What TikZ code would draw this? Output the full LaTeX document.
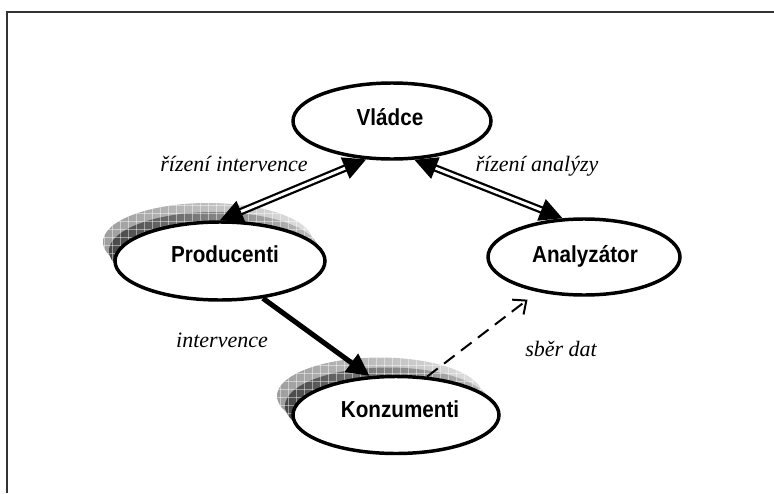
\documentclass[tikz,border=0pt]{standalone}
\usepackage{fontspec}
\setmainfont{Liberation Serif}
\setsansfont{Liberation Sans}
\usetikzlibrary{shapes.geometric,arrows.meta,patterns.meta}

\begin{document}
\begin{tikzpicture}[x=0.75pt,y=-0.75pt,
  actor/.style={ellipse, draw=black, line width=2.6pt, fill=white, inner sep=0pt},
  actorname/.style={font=\sffamily\bfseries\fontsize{15.5}{18}\selectfont, inner sep=0pt},
  tag/.style={font=\itshape\fontsize{16.5}{19}\selectfont, anchor=base, inner sep=0pt},
  frameline/.style={draw=black!80, line width=1.5pt},
  ctrl/.style={draw=black, line width=1.7pt, double=white, double distance=2.2pt,
    {Triangle[length=17pt,width=17pt]}-{Triangle[length=17pt,width=17pt]}},
  flow/.style={draw=black, line width=3.8pt, -{Triangle[length=17pt,width=16pt]}},
  collect/.style={draw=black, line width=1.5pt, dash pattern=on 10pt off 6pt,
    -{Straight Barb[length=8pt,width=14pt,line width=1.5pt]}},
  shadeouter/.style={ellipse, inner sep=0pt, left color=black!38, right color=black!12},
  shadeinner/.style={ellipse, inner sep=0pt, left color=black!72, right color=black!25},
  shadegrid/.style={ellipse, inner sep=0pt, pattern color=white, opacity=0.45,
    pattern={Lines[distance=6pt,angle=0,line width=0.5pt]}},
  shadegridv/.style={ellipse, inner sep=0pt, pattern color=white, opacity=0.45,
    pattern={Lines[distance=6pt,angle=90,line width=0.5pt]}}
]
\useasboundingbox (0,0) rectangle (774,493);

% frame (top and left edges)
\coordinate (fTL) at (7,12);
\coordinate (fTR) at (774,12);
\coordinate (fBL) at (7,493);
\draw[frameline] (fTR) -- (fTL) -- (fBL);

% drop shadows behind the two lower-left actors
\node[shadeouter, minimum width=157.5pt, minimum height=58.5pt] (prodSo) at (208,242) {};
\node[shadegrid, minimum width=157.5pt, minimum height=58.5pt] (prodSg) at (208,242) {};
\node[shadegridv, minimum width=157.5pt, minimum height=58.5pt] (prodSv) at (208,242) {};
\node[shadeinner, minimum width=157.5pt, minimum height=58.5pt] (prodSi) at (214,251) {};
\node[shadegrid, minimum width=157.5pt, minimum height=58.5pt] (prodSig) at (214,251) {};
\node[shadegridv, minimum width=157.5pt, minimum height=58.5pt] (prodSiv) at (214,251) {};

\node[shadeouter, minimum width=154.5pt, minimum height=57.75pt] (konSo) at (380,396) {};
\node[shadegrid, minimum width=154.5pt, minimum height=57.75pt] (konSg) at (380,396) {};
\node[shadegridv, minimum width=154.5pt, minimum height=57.75pt] (konSv) at (380,396) {};
\node[shadeinner, minimum width=154.5pt, minimum height=57.75pt] (konSi) at (388,406) {};
\node[shadegrid, minimum width=154.5pt, minimum height=57.75pt] (konSig) at (388,406) {};
\node[shadegridv, minimum width=154.5pt, minimum height=57.75pt] (konSiv) at (388,406) {};

% actors
\node[actor, minimum width=148.5pt, minimum height=57pt] (vl) at (392,121) {};
\node[actor, minimum width=157.5pt, minimum height=58.5pt] (prod) at (220,261) {};
\node[actor, minimum width=144pt, minimum height=57pt] (ana) at (584,257) {};
\node[actor, minimum width=154.5pt, minimum height=57.75pt] (kon) at (396,415) {};

\node[actorname] (vlT) at (390,117) {\scalebox{1}[1.12]{Vládce}};
\node[actorname] (prodT) at (225,254) {\scalebox{1}[1.12]{Producenti}};
\node[actorname] (anaT) at (585,256) {\scalebox{1}[1.12]{Analyzátor}};
\node[actorname] (konT) at (400,409) {\scalebox{1}[1.12]{Konzumenti}};

% connectors
\draw[ctrl] (prod.north) -- (vl.236);
\draw[ctrl] (vl.300) -- (ana.119);
\draw[flow] (prod.319) -- (kon.124);
\draw[collect, shorten >=9.5pt] (kon.51) -- (ana.217);

% connector labels
\node[tag] (lblRI) at (234,171) {řízení intervence};
\node[tag] (lblRA) at (537,171) {řízení analýzy};
\node[tag] (lblI) at (222,347) {intervence};
\node[tag] (lblS) at (561,356) {sběr dat};
\end{tikzpicture}
\end{document}
